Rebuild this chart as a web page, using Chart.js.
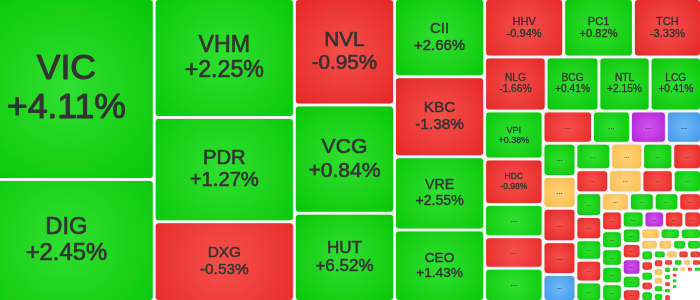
<!DOCTYPE html>
<html>
<head>
<meta charset="utf-8">
<script src="https://cdn.jsdelivr.net/npm/chart.js@4.4.0/dist/chart.umd.min.js"></script>
<style>
  html, body { margin: 0; padding: 0; background: #fff; }
  #wrap { width: 700px; height: 300px; }
</style>
</head>
<body>
<div id="wrap"><canvas id="heatmap"></canvas></div>
<script>
// stock tickers (only the big tiles carry a readable label)
const tickers = ['VIC', 'DIG', 'VHM', 'PDR', 'DXG', 'NVL', 'VCG', 'HUT', 'CII', 'KBC', 'VRE', 'CEO',
  'HHV', 'PC1', 'TCH', 'NLG', 'BCG', 'NTL', 'LCG', 'VPI', 'HDC'];

// weight of each stock in the map (tile area)
const weights = [31233, 20967, 16450, 14588, 10962, 10500, 10833, 8667, 6900, 7200, 6600, 6300,
  4496, 3963, 3787, 3329, 2857, 2771, 2700, 2800, 2650,
  1880, 1840, 1850,
  1590, 1221, 1154, 1081,
  1090, 1039, 1102, 1072, 840,
  925, 846, 799, 723,
  745, 760, 713, 608,
  612, 600, 526, 562, 463,
  509, 457, 450, 389,
  406, 372, 358, 362, 336,
  370, 348, 330, 276,
  285, 286, 304, 252, 209,
  220, 230, 225, 180,
  150, 145, 140, 135, 130, 125,
  118, 115, 112, 105,
  100, 96, 92, 88, 84,
  80, 76, 72, 68,
  64, 61, 58, 55, 52,
  50, 48, 46, 44,
  42, 40, 38, 37, 36,
  34, 34, 33, 33, 32, 32, 31, 31, 30, 30, 29, 29, 28, 28, 27, 27, 26, 26, 25, 25,
  24, 24, 23, 23];

// % change of the day
const changes = [4.11, 2.45, 2.25, 1.27, -0.53, -0.95, 0.84, 6.52, 2.66, -1.38, 2.55, 1.43,
  -0.94, 0.82, -3.33, -1.66, 0.41, 2.15, 0.41, 0.38, -0.98,
  1.12, -1.05, 0.95,
  -1.80, 1.60, 6.95, -6.90,
  2.10, 0, -0.70, -2.40, -6.95,
  1.30, 0, 0.60, -1.10,
  -0.90, 0, -2.00, 1.50,
  0.80, -1.20, 2.30, -0.50, 1.00,
  0, 0.70, 1.90, -1.40,
  -0.60, 1.10, 3.00, 0.50, 1.70,
  2.20, 7.00, -1.50, -0.80,
  0.90, -2.20, 6.90, 1.40, -1.90,
  0, 1.20, 0.60, 0,
  0, 1.00, 0.80, 1.60, -1.30, 2.00,
  -0.70, 1.10, 0.90, 0,
  -1.00, -2.10, -0.40, 0, 0,
  1.30, 0.50, -1.60, 1.80,
  0, -0.90, 1.20, 0.70, -1.10,
  1.50, -0.30, 2.40, 0,
  -1.20, 0.60, -0.50, 1.10, 0.90,
  0.5, -0.4, 1.1, 0, -0.8, 0.3, 1.6, -1.2, 0.7, 0, 0.9, -0.6, 1.3, 0.2, -1.5, 0.4, 0, 1.0, -0.3, 0.8,
  -0.9, 0.6, 0, 1.4];

// whole map extent; the picture shows x 0..700 of it (left edge is cut off)
const mapExtent = [-20, 0, 700, 300];

const palette = {
  up:      { base: 'rgb(8,198,8)',    glow: 'rgb(48,224,48)' },
  down:    { base: 'rgb(228,38,38)',  glow: 'rgb(246,80,74)' },
  ref:     { base: 'rgb(250,188,72)', glow: 'rgb(255,210,122)' },
  ceiling: { base: 'rgb(178,32,214)', glow: 'rgb(208,84,238)' },
  floor:   { base: 'rgb(66,152,232)', glow: 'rgb(112,186,248)' }
};

function tileColor(c) {
  if (c >= 6.9) return palette.ceiling;
  if (c <= -6.9) return palette.floor;
  if (c > 0) return palette.up;
  if (c < 0) return palette.down;
  return palette.ref;
}

// squarified layout, strips laid along the shorter side, tiles aimed at a wide ratio
function squarify(values, box, targetRatio) {
  const cells = [];
  let [x0, y0, x1, y1] = box;
  let rest = values.reduce((s, v) => s + v, 0);
  let i = 0;
  while (i < values.length) {
    const w = x1 - x0, h = y1 - y0;
    const unit = (w * h) / rest;
    const column = h <= w;
    const side = column ? h : w;
    const score = (sum, lo, hi) => {
      const t = (sum * unit) / side;
      let worst = 0;
      for (const v of [lo, hi]) {
        const len = (v * unit) / t;
        const q = column ? t / len : len / t;
        worst = Math.max(worst, q / targetRatio, targetRatio / q);
      }
      return worst;
    };
    let sum = values[i], lo = sum, hi = sum;
    let best = score(sum, lo, hi);
    let j = i + 1;
    for (; j < values.length; j++) {
      const v = values[j];
      const next = score(sum + v, Math.min(lo, v), Math.max(hi, v));
      if (next > best) break;
      sum += v; lo = Math.min(lo, v); hi = Math.max(hi, v); best = next;
    }
    const t = j >= values.length ? (column ? w : h) : (sum * unit) / side;
    let p = column ? y0 : x0;
    for (let k = i; k < j; k++) {
      const len = (values[k] * unit) / t;
      cells.push(column
        ? { k, x0: x0, y0: p, x1: x0 + t, y1: p + len }
        : { k, x0: p, y0: y0, x1: p + len, y1: y0 + t });
      p += len;
    }
    if (column) x0 += t; else y0 += t;
    rest -= sum;
    i = j;
  }
  return cells;
}

function fmtChange(c) {
  return (c > 0 ? '+' : '') + c.toFixed(2) + '%';
}

const treemapTiles = {
  id: 'treemapTiles',
  afterDatasetsDraw(chart) {
    const { ctx, chartArea } = chart;
    const sx = chart.scales.x, sy = chart.scales.y;
    const cells = squarify(weights, mapExtent, 1.29);
    const gap = 1.5;
    ctx.save();
    ctx.beginPath();
    ctx.rect(chartArea.left, chartArea.top, chartArea.right - chartArea.left, chartArea.bottom - chartArea.top);
    ctx.clip();
    cells.forEach(c => {
      let left = sx.getPixelForValue(c.x0), right = sx.getPixelForValue(c.x1);
      let top = sy.getPixelForValue(c.y0), bottom = sy.getPixelForValue(c.y1);
      if ((right - left) * (bottom - top) < 35) return; // too small to be shown
      if (left > chartArea.left + 0.5) left += gap;
      if (right < chartArea.right - 0.5) right -= gap;
      if (top > chartArea.top + 0.5) top += gap;
      if (bottom < chartArea.bottom - 0.5) bottom -= gap;
      const w = right - left, h = bottom - top;
      if (w < 1.5 || h < 1.5) return;
      const cx = left + w / 2, cy = top + h / 2;
      const col = tileColor(changes[c.k]);
      const grad = ctx.createRadialGradient(cx, cy, 0, cx, cy, Math.max(w, h) * 0.7);
      grad.addColorStop(0, col.glow);
      grad.addColorStop(1, col.base);
      ctx.shadowColor = 'rgba(0,0,0,0.22)';
      ctx.shadowBlur = 2;
      ctx.beginPath();
      ctx.roundRect(left, top, w, h, Math.min(3, w / 3, h / 3));
      ctx.fillStyle = grad;
      ctx.fill();
      ctx.shadowBlur = 0;
      ctx.shadowColor = 'transparent';

      const f = Math.min(0.2 * h, 0.25 * w);
      ctx.textAlign = 'center';
      if (c.k < tickers.length && f >= 7.5) {
        ctx.font = f.toFixed(1) + 'px "Liberation Sans", Arial, sans-serif';
        ctx.textBaseline = 'middle';
        ctx.fillStyle = '#333';
        ctx.strokeStyle = '#333';
        ctx.lineWidth = Math.max(0.3, f * 0.03);
        ctx.lineJoin = 'round';
        const lines = [tickers[c.k], fmtChange(changes[c.k])];
        lines.forEach((txt, n) => {
          const ty = cy + (n === 0 ? -0.55 : 0.55) * f;
          ctx.fillText(txt, cx, ty);
          ctx.strokeText(txt, cx, ty);
        });
      } else if (Math.min(w, h) >= 9) {
        const fs = Math.max(6, Math.min(9, Math.min(w, h) * 0.26));
        ctx.font = 'bold ' + fs.toFixed(1) + 'px "Liberation Sans", Arial, sans-serif';
        ctx.textBaseline = 'alphabetic';
        ctx.fillStyle = 'rgba(50,50,50,0.8)';
        ctx.fillText('...', cx, cy + fs * 0.2);
      }
    });
    ctx.restore();
  }
};

new Chart(document.getElementById('heatmap'), {
  type: 'scatter',
  data: { datasets: [{ data: [] }] },
  options: {
    responsive: true,
    maintainAspectRatio: false,
    animation: false,
    layout: { padding: 0 },
    plugins: {
      legend: { display: false },
      tooltip: { enabled: false }
    },
    scales: {
      x: { type: 'linear', min: 0, max: 700, display: false },
      y: { type: 'linear', min: 0, max: 300, reverse: true, display: false }
    }
  },
  plugins: [treemapTiles]
});
</script>
</body>
</html>
